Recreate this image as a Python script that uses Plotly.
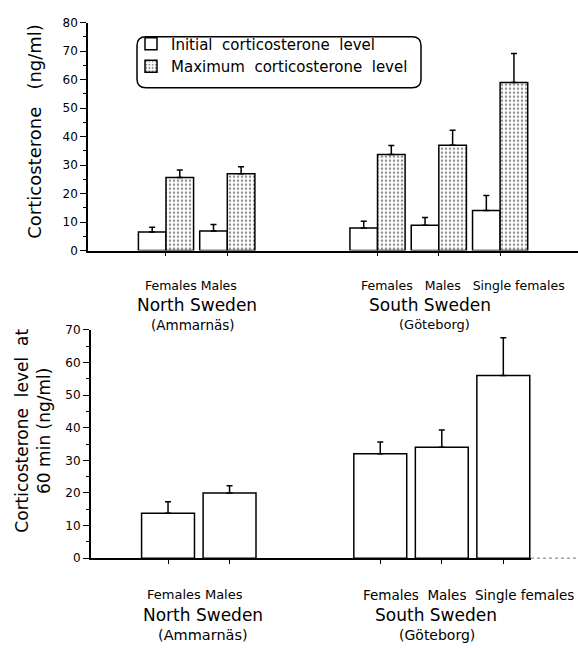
import plotly.graph_objects as go

W, H = 578, 648
NB = "\u00a0"

# ---------------- data ----------------
groups = ["Females", "Males", "Females", "Males", "Single females"]
x_pos = [1, 2, 4.45, 5.45, 6.45]          # category positions (north: 1-2, south: 3 groups)

initial_level = [6.5, 6.9, 7.9, 8.9, 14.1]
initial_err = [1.7, 2.3, 2.4, 2.7, 5.2]
maximum_level = [25.7, 27.0, 33.7, 37.0, 59.0]
maximum_err = [2.6, 2.4, 3.2, 5.2, 10.2]

level_60 = [13.8, 20.0, 32.0, 34.0, 56.0]
level_60_err = [3.5, 2.2, 3.6, 5.3, 11.6]

top_yticks = [0, 10, 20, 30, 40, 50, 60, 70, 80]
bot_yticks = [0, 10, 20, 30, 40, 50, 60, 70]

# ---------------- helpers ----------------
def px(x):
    return x / W

def py(y):
    return 1 - y / H

font = "DejaVu Sans"

fig = go.Figure()

fig.add_trace(go.Bar(
    x=x_pos, y=initial_level, name=f"Initial{NB}{NB}corticosterone{NB}{NB}level",
    width=0.45, offset=-0.45,
    marker=dict(color="white", line=dict(color="black", width=1.5)),
    error_y=dict(type="data", symmetric=False, array=initial_err,
                 arrayminus=[0] * len(initial_err), color="black", thickness=1.5, width=3),
    xaxis="x", yaxis="y",
))
fig.add_trace(go.Bar(
    x=x_pos, y=maximum_level, name=f"Maximum{NB}{NB}corticosterone{NB}{NB}level",
    width=0.45, offset=0,
    marker=dict(color="white", line=dict(color="black", width=1.5),
                pattern=dict(shape=".", size=4, solidity=0.3,
                             fgcolor="#222", bgcolor="white")),
    error_y=dict(type="data", symmetric=False, array=maximum_err,
                 arrayminus=[0] * len(maximum_err), color="black", thickness=1.5, width=3),
    xaxis="x", yaxis="y",
))
fig.add_trace(go.Bar(
    x=x_pos, y=level_60, name="60 min", showlegend=False,
    width=0.86,
    marker=dict(color="white", line=dict(color="black", width=1.5)),
    error_y=dict(type="data", symmetric=False, array=level_60_err,
                 arrayminus=[0] * len(level_60_err), color="black", thickness=1.5, width=3),
    xaxis="x2", yaxis="y2",
))

axis_common = dict(showgrid=False, zeroline=False, showline=True,
                   linecolor="black", linewidth=1.5,
                   tickfont=dict(family=font, size=12, color="black"))

fig.update_layout(
    width=W, height=H,
    margin=dict(l=0, r=0, t=0, b=0),
    paper_bgcolor="white", plot_bgcolor="white",
    showlegend=True,
    legend=dict(x=px(131), y=py(21), xanchor="left", yanchor="top",
                bgcolor="rgba(0,0,0,0)", borderwidth=0,
                font=dict(family=font, size=15, color="black"),
                tracegroupgap=0, itemwidth=30),
    xaxis=dict(domain=[px(88), 1.0], range=[-0.272, 7.72],
               tickmode="array", tickvals=x_pos, ticktext=[""] * len(x_pos),
               ticks="outside", ticklen=4, tickcolor="black", tickwidth=1.2,
               anchor="y", **axis_common),
    yaxis=dict(domain=[py(249), py(16)], range=[0, 80],
               tickmode="array", tickvals=top_yticks,
               ticks="outside", ticklen=6, tickcolor="black", tickwidth=1.2,
               minor=dict(tickmode="array", tickvals=[5, 15, 25, 35, 45, 55, 65, 75],
                          ticks="outside", ticklen=3, tickcolor="black", tickwidth=1),
               anchor="x", **axis_common),
    xaxis2=dict(domain=[px(90.7), px(531)], range=[-0.257, 6.90],
                tickmode="array", tickvals=x_pos, ticktext=[""] * len(x_pos),
                ticks="outside", ticklen=4, tickcolor="black", tickwidth=1.2,
                anchor="y2", **axis_common),
    yaxis2=dict(domain=[py(563.3), py(330)], range=[0, 70],
                tickmode="array", tickvals=bot_yticks,
                ticks="outside", ticklen=6, tickcolor="black", tickwidth=1.2,
                minor=dict(tickmode="array", tickvals=[5, 15, 25, 35, 45, 55, 65],
                           ticks="outside", ticklen=3, tickcolor="black", tickwidth=1),
                anchor="x2", **axis_common),
)

# rounded legend box
L, R, T, B, r = 137, 421, 30.5, 82.5, 9
path = (f"M {px(L + r)},{py(T)} L {px(R - r)},{py(T)} "
        f"Q {px(R)},{py(T)} {px(R)},{py(T + r)} L {px(R)},{py(B - r)} "
        f"Q {px(R)},{py(B)} {px(R - r)},{py(B)} L {px(L + r)},{py(B)} "
        f"Q {px(L)},{py(B)} {px(L)},{py(B - r)} L {px(L)},{py(T + r)} "
        f"Q {px(L)},{py(T)} {px(L + r)},{py(T)} Z")
fig.add_shape(type="path", path=path, xref="paper", yref="paper",
              line=dict(color="black", width=1.5), fillcolor="rgba(0,0,0,0)")

# dotted continuation of the lower baseline
fig.add_shape(type="line", xref="paper", yref="paper",
              x0=px(531), x1=px(578), y0=py(563.3), y1=py(563.3),
              line=dict(color="#777", width=1, dash="dot"))

def label(text, x, y, size, angle=0):
    fig.add_annotation(text=text, xref="paper", yref="paper", x=px(x), y=py(y),
                       xanchor="center", yanchor="middle", showarrow=False,
                       textangle=angle,
                       font=dict(family=font, size=size, color="black"))

sp2 = NB * 2
sp3 = NB * 3
# top chart labels
label("Females Males", 191, 285, 12.5)
label("North Sweden", 196.7, 305, 17)
label("(Ammarnäs)", 193, 325, 13.5)
label(f"Females{sp3}Males{sp3}Single females", 462.7, 285, 12.5)
label("South Sweden", 430, 305, 17)
label("(Göteborg)", 434, 325, 13)

# bottom chart labels
label("Females Males", 195, 600.7, 13)
label("North Sweden", 202.5, 621, 17)
label("(Ammarnäs)", 202.5, 641.7, 14.5)
label(f"Females{sp2}Males{sp2}Single{NB}females", 468.8, 600.7, 13.5)
label("South Sweden", 435.8, 621, 17)
label("(Göteborg)", 436.8, 641.7, 14)

# y-axis titles
label(f"Corticosterone{sp3}(ng/ml)", 35, 127.5, 18, angle=-90)
label(f"Corticosterone{sp2}level{sp2}at<br>60 min (ng/ml)", 33, 433, 17, angle=-90)

fig.write_html("out.html")
